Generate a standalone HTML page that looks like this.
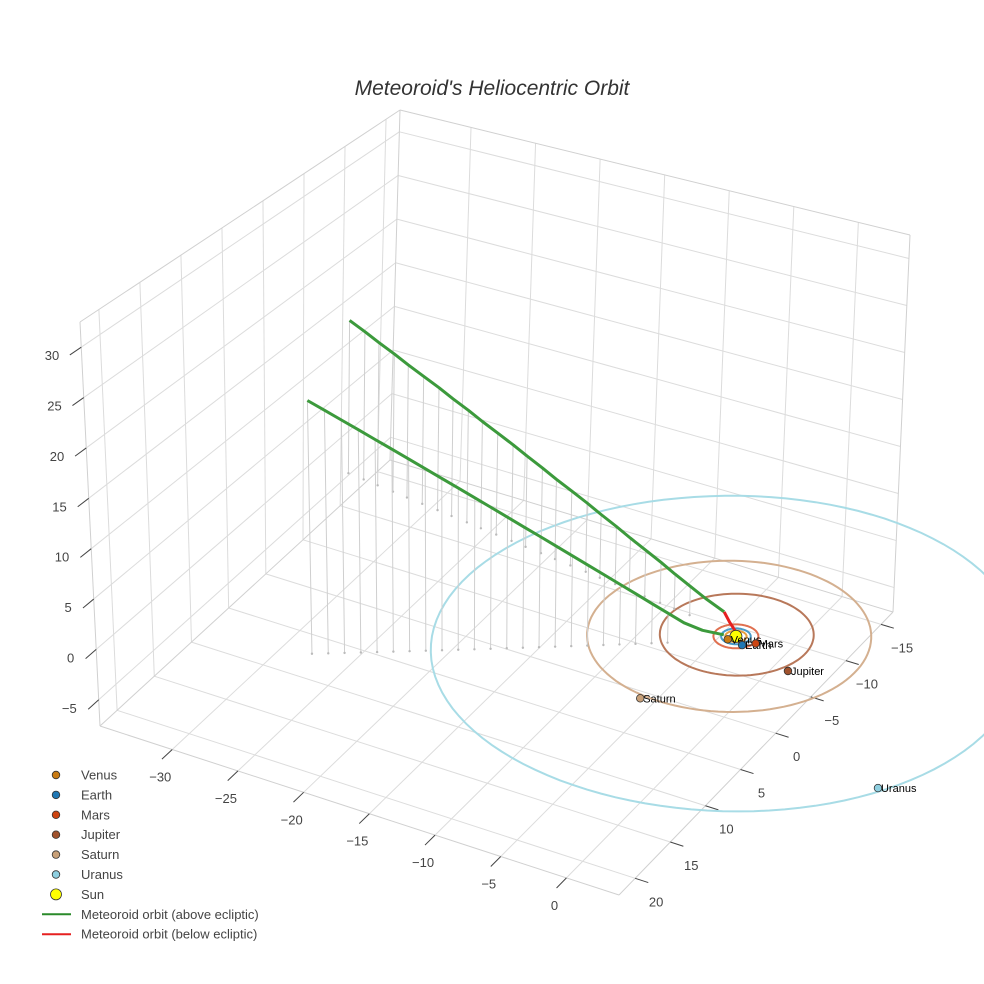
<!DOCTYPE html>
<html><head><meta charset="utf-8"><style>
body{margin:0;background:#fff}
svg{display:block;font-family:"Liberation Sans",sans-serif}
</style></head><body>
<svg id="chart" width="984" height="984" viewBox="0 0 984 984" xmlns="http://www.w3.org/2000/svg">
<rect width="984" height="984" fill="#fff"/>
<text x="492" y="95" text-anchor="middle" font-size="21" font-style="italic" fill="#333">Meteoroid's Heliocentric Orbit</text>
<g id="grid"></g>
<g id="marks"></g>
<g id="legend"></g>
</svg>
<script>
// axis ranges & ticks
const xRange=[-35.5,4], yRange=[-16.7,22.3], zRange=[-7.6,32.5];
const xTicks=[-30,-25,-20,-15,-10,-5,0];
const yTicks=[-15,-10,-5,0,5,10,15,20];
const zTicks=[-5,0,5,10,15,20,25,30];
// sun
const sunX=[0.33], sunY=[-0.77], sunZ=[0];
// planets
const planetNames=["Venus","Earth","Mars","Jupiter","Saturn","Uranus"];
const planetX=[0.03,1.23,1.93,5.5,-1.5,17.7];
const planetY=[-0.17,0.0,-0.63,1.36,9.3,11.3];
const orbitR=[0.72,1.0,1.52,5.2,9.6,20.0];
const orbitCx=[0.33,0.33,0.33,0.28,-0.06,0.9];
const orbitCy=[-0.77,-0.77,-0.77,-1.0,-0.6,1.2];
const planetColors=["#c87a12","#1f77b4","#cc4411","#a0522d","#c8a078","#8ecfe0"];
const orbitColors=["#e8a040","#4a9ac8","#e07050","#b8785a","#d4b090","#a8dce6"];
// meteoroid legs
const legAx=[-32.7,-31.4,-30.2,-28.9,-27.7,-26.4,-25.1,-23.9,-22.6,-21.4,-20.1,-18.8,-17.6,-16.3,-15.1,-13.8,-12.5,-11.3,-10.0,-8.8,-7.5,-6.2,-5.0,-3.7,-2.4,-0.9];
const legAy=[-6.2,-6.0,-5.8,-5.6,-5.4,-5.2,-5.0,-4.8,-4.6,-4.4,-4.2,-4.0,-3.8,-3.6,-3.4,-3.2,-3.0,-2.8,-2.6,-2.4,-2.2,-2.0,-1.8,-1.6,-1.4,-1.3];
const legAz=[16.7,16.1,15.5,14.9,14.3,13.7,13.1,12.5,11.9,11.3,10.7,10.1,9.5,8.9,8.3,7.7,7.1,6.5,5.9,5.3,4.7,4.1,3.5,2.9,2.3,1.6];
const legBx=[-23.1,-22.2,-21.3,-20.4,-19.5,-18.6,-17.7,-16.8,-15.9,-15.0,-14.1,-13.2,-12.3,-11.4,-10.5,-9.6,-8.7,-7.8,-6.9,-6.0,-5.1,-4.2,-3.3,-2.4,-1.4,-0.3];
const legBy=[15.4,14.8,14.2,13.6,13.0,12.4,11.8,11.2,10.6,10.0,9.4,8.8,8.2,7.6,7.0,6.4,5.8,5.2,4.6,4.0,3.4,2.8,2.2,1.6,0.8,-0.2];
const legBz=[24.9,23.9,22.9,21.9,20.9,19.9,18.9,17.9,16.9,15.9,14.9,13.9,12.9,11.9,10.9,9.9,8.9,7.9,6.9,5.9,4.9,3.9,2.9,1.9,1.0,0.3];
const redX=[-0.9,-0.3,0.25];
const redY=[-1.3,-1.0,-0.85];
const redZ=[1.6,1.0,0.4];

const NS="http://www.w3.org/2000/svg";
const Fb={B:[390,460],R:[893,612],L:[100,726],F:[619,895]};
const Tp={B:[400,110],R:[910,235],L:[80,322],F:[626,445]};
function P(x,y,z){
  const u=(x-xRange[0])/(xRange[1]-xRange[0]);
  const v=(y-yRange[0])/(yRange[1]-yRange[0]);
  const w=(z-zRange[0])/(zRange[1]-zRange[0]);
  const wb=(1-u)*(1-v),wr=u*(1-v),wl=(1-u)*v,wf=u*v;
  const out=[0,0];
  for(let i=0;i<2;i++){
    const f=wb*Fb.B[i]+wr*Fb.R[i]+wl*Fb.L[i]+wf*Fb.F[i];
    const t=wb*Tp.B[i]+wr*Tp.R[i]+wl*Tp.L[i]+wf*Tp.F[i];
    out[i]=f+(t-f)*w;
  }
  return out;
}
function el(tag,attrs,parent){const e=document.createElementNS(NS,tag);for(const k in attrs)e.setAttribute(k,attrs[k]);parent.appendChild(e);return e;}
function seg(a,b,stroke,sw,parent){return el("line",{x1:a[0],y1:a[1],x2:b[0],y2:b[1],stroke:stroke,"stroke-width":sw},parent);}
function pathOf(pts){return pts.map((p,i)=>(i?"L":"M")+p[0].toFixed(1)+","+p[1].toFixed(1)).join("");}

const grid=document.getElementById("grid");
const GC="#dcdcdc";
const [X0,X1]=xRange,[Y0,Y1]=yRange,[Z0,Z1]=zRange;
xTicks.forEach(x=>{const l=seg(P(x,Y0,Z0),P(x,Y1,Z0),GC,1,grid);


const m=seg(P(x,Y0,Z0),P(x,Y0,Z1),GC,1,grid);

});
yTicks.forEach(y=>{const l=seg(P(X0,y,Z0),P(X1,y,Z0),GC,1,grid);


const m=seg(P(X0,y,Z0),P(X0,y,Z1),GC,1,grid);

});
zTicks.forEach(z=>{const l=seg(P(X0,Y0,z),P(X0,Y1,z),GC,1,grid);


const m=seg(P(X0,Y0,z),P(X1,Y0,z),GC,1,grid);

});
[[[X0,Y0,Z0],[X1,Y0,Z0]],[[X0,Y0,Z0],[X0,Y1,Z0]],[[X0,Y1,Z0],[X1,Y1,Z0]],[[X1,Y0,Z0],[X1,Y1,Z0]],
 [[X0,Y0,Z0],[X0,Y0,Z1]],[[X0,Y1,Z0],[X0,Y1,Z1]],[[X1,Y0,Z0],[X1,Y0,Z1]],
 [[X0,Y0,Z1],[X1,Y0,Z1]],[[X0,Y0,Z1],[X0,Y1,Z1]]].forEach(e=>{
 const l=seg(P(...e[0]),P(...e[1]),"#d0d0d0",1,grid);
 
 });
const TK="#444";
xTicks.forEach(x=>{const a=P(x,Y1,Z0),b=P(x,Y1+1.4,Z0);seg(a,b,TK,1,grid);
 const t=el("text",{x:a[0]-12,y:a[1]+32,"text-anchor":"middle","font-size":13,fill:"#444"},grid);t.textContent=x<0?"\u2212"+(-x):x;
 
 });
yTicks.forEach(y=>{const a=P(X1,y,Z0),b=P(X1+1.0,y,Z0);seg(a,b,TK,1,grid);
 const t=el("text",{x:a[0]+21,y:a[1]+28,"text-anchor":"middle","font-size":13,fill:"#444"},grid);t.textContent=y<0?"\u2212"+(-y):y;
 
 });
zTicks.forEach(z=>{const a=P(X0,Y1,z),b=P(X0,Y1+1.4,z);seg(a,b,TK,1,grid);
 const t=el("text",{x:a[0]-22,y:a[1]+13,"text-anchor":"end","font-size":13,fill:"#444"},grid);t.textContent=z<0?"\u2212"+(-z):z;
 
 });

const marks=document.getElementById("marks");
orbitR.forEach((r,i)=>{const pts=[];for(let a=0;a<=360;a+=3){const t=a*Math.PI/180;pts.push(P(orbitCx[i]+r*Math.cos(t),orbitCy[i]+r*Math.sin(t),0));}
 const p=el("path",{d:pathOf(pts),fill:"none",stroke:orbitColors[i],"stroke-width":2},marks);
 
 });
function drops(xs,ys,zs){xs.forEach((x,i)=>{if(zs[i]<2.5)return;const a=P(x,ys[i],zs[i]),b=P(x,ys[i],0);
 const l=seg(a,b,"#cfcfcf",1,marks);
 
 
 const c=el("circle",{cx:b[0],cy:b[1],r:1.2,fill:"#bbb"},marks);
 
 });}
drops(legAx,legAy,legAz);drops(legBx,legBy,legBz);
function leg(xs,ys,zs,color,name){const pts=xs.map((x,i)=>P(x,ys[i],zs[i]));
 const p=el("path",{d:pathOf(pts),fill:"none",stroke:color,"stroke-width":3,"stroke-linejoin":"round"},marks);
 
 }
leg(legAx,legAy,legAz,"#3c9a3c","meteoroid-leg-a");
leg(legBx,legBy,legBz,"#3c9a3c","meteoroid-leg-b");
leg(redX,redY,redZ,"#e62020","meteoroid-below-ecliptic");
const s=P(sunX[0],sunY[0],sunZ[0]);
const sun=el("circle",{cx:s[0],cy:s[1],r:6,fill:"#ffff00",stroke:"#333","stroke-width":0.8},marks);


planetNames.forEach((n,i)=>{const p=P(planetX[i],planetY[i],0);
 const c=el("circle",{cx:p[0],cy:p[1],r:3.8,fill:planetColors[i],stroke:"#333","stroke-width":0.8},marks);
 
 
 const t=el("text",{x:p[0]+3,y:p[1]+4,"font-size":11,fill:"#000"},marks);t.textContent=n;
 
 });

const lg=document.getElementById("legend");
const legNames=["Venus","Earth","Mars","Jupiter","Saturn","Uranus","Sun","Meteoroid orbit (above ecliptic)","Meteoroid orbit (below ecliptic)"];
const legColors=["#c87a12","#1f77b4","#cc4411","#a0522d","#c8a078","#8ecfe0","#ffff00","#2a8a2a","#e62020"];
legNames.forEach((n,i)=>{const y=775+i*19.9;
 const g=el("g",{},lg);
 
 
 if(i<7){el("circle",{cx:56,cy:y,r:i==6?5.5:3.8,fill:legColors[i],stroke:"#333","stroke-width":0.8},g);}
 else{el("line",{x1:42,y1:y,x2:71,y2:y,stroke:legColors[i],"stroke-width":2},g);}
 const t=el("text",{x:81,y:y+4.5,"font-size":13,fill:"#444"},g);t.textContent=n;});
</script>
</body></html>
